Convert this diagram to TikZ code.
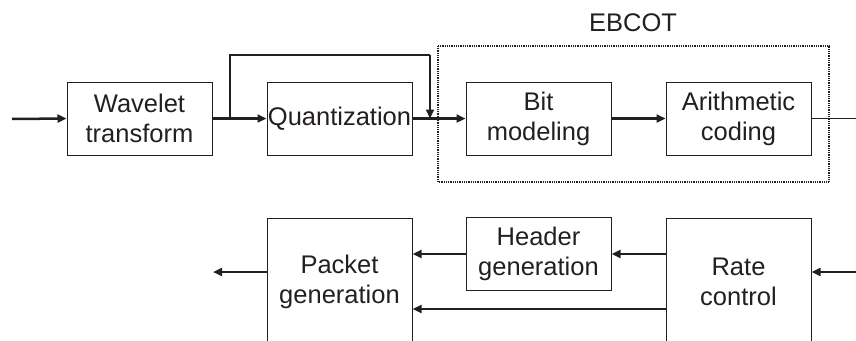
\documentclass[tikz,border=0pt]{standalone}
\usepackage{fontspec}
\setmainfont{Liberation Sans}
\usetikzlibrary{arrows.meta}
\definecolor{ink}{HTML}{231F20}
\tikzset{
  blk/.style={draw=ink, line width=1pt, minimum width=145pt, minimum height=73pt, inner sep=0pt, align=center, text=ink,
    font=\fontsize{25.5pt}{30pt}\selectfont},
  tall/.style={blk, minimum height=128pt},
  arr/.style={draw=ink, line width=2.5pt, -{Triangle[length=9pt,width=8pt]}},
  thin/.style={draw=ink, line width=1.2pt},
  thinarr/.style={draw=ink, line width=1.6pt, -{Triangle[length=9pt,width=8pt]}},
  ebc/.style={draw=ink, line width=1.3pt, dash pattern=on 1pt off 0.8pt},
}
\begin{document}
\begin{tikzpicture}[x=1pt,y=-1pt]
\useasboundingbox (0,0) rectangle (856,340);
\clip (0,0) rectangle (856,340);
% EBCOT frame
\draw[ebc] (438,46) rectangle (829,182);
\node[text=ink, font=\fontsize{25.5pt}{30pt}\selectfont] (ebl) at (633,23) {EBCOT};
% top row
\coordinate (in) at (12,119);
\node[blk] (wav) at (139.5,118.5) {Wavelet\\transform};
\node[blk] (qua) at (339.5,118.5) {Quantization};
\node[blk] (bit) at (538.5,118.5) {Bit\\modeling};
\node[blk] (ari) at (738.5,118.5) {Arithmetic\\coding};
\coordinate (out) at (856,118.5);
\coordinate (fb1) at (230,118.5);
\coordinate (fb2) at (230,55);
\coordinate (fb3) at (430,55);
\coordinate (fb4) at (430,118.5);
\draw[arr] (in) -- (wav.west);
\draw[arr] (wav.east) -- (qua.west);
\draw[thin] (fb1) -- (fb2) -- (fb3);
\draw[thinarr] (fb3) -- (fb4);
\draw[arr] (qua.east) -- (bit.west);
\draw[arr] (bit.east) -- (ari.west);
\draw[thin] (ari.east) -- (out);
% bottom row
\node[tall] (pkt) at (339.5,282) {Packet\\generation};
\node[blk] (hdr) at (538.5,254) {Header\\generation};
\node[tall] (rat) at (738.5,282) {Rate\\control};
\coordinate (pout) at (213,272);
\coordinate (rin) at (856,272);
\coordinate (low) at (666,309);
\draw[arr] (rat.west |- hdr.east) -- (hdr.east);
\draw[arr] (hdr.west) -- (hdr.west -| pkt.east);
\draw[arr] (low) -- (low -| pkt.east);
\draw[arr] (pkt.west |- pout) -- (pout);
\draw[arr] (rin) -- (rat.east |- rin);
\end{tikzpicture}
\end{document}
